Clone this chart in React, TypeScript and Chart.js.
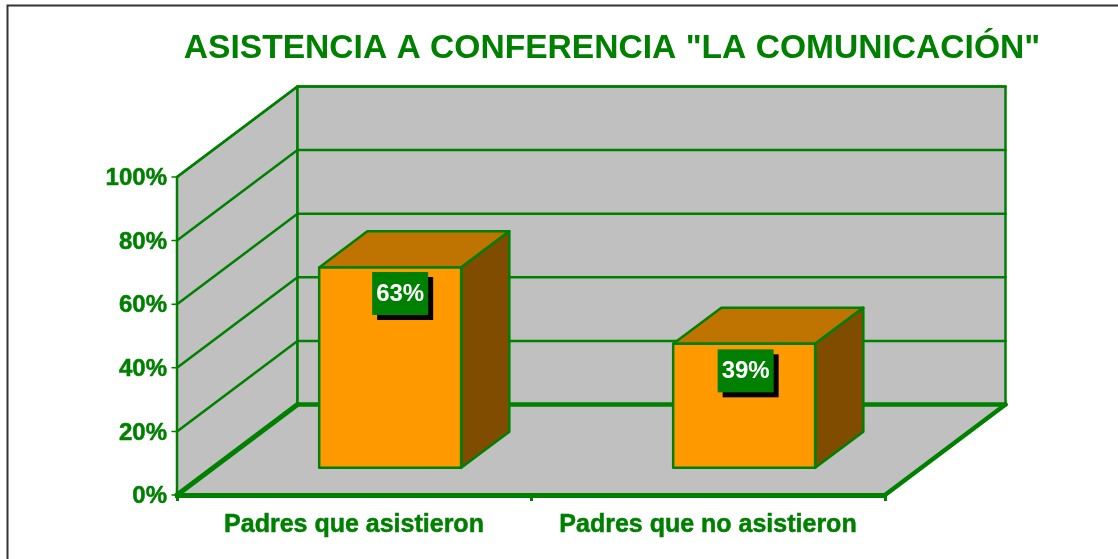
import React, { useEffect, useRef } from "react";
import { Chart, registerables } from "chart.js";

Chart.register(...registerables);

const titleText = 'ASISTENCIA A CONFERENCIA "LA COMUNICACIÓN"';
const categories = ["Padres que asistieron", "Padres que no asistieron"];
const percentValues = [63, 39];
const labelNudgeX = [10, 1.5];
const labelDropY = [26, 27];

const GREEN = "#008000";
const WALL = "#C0C0C0";
const FACE = "#FF9900";
const TOP = "#BF7300";
const SIDE = "#7F4C00";
const FONT = "'Liberation Sans', Arial, sans-serif";
const DEPTH_X = 120.5;
const DEPTH_Y = -90.5;
const FRONT_GAP = 0.3;
const BAR_DEPTH = 0.4;
const LINE = 2.5;

function poly(ctx: CanvasRenderingContext2D, pts: number[][], fill?: string, stroke?: string, width = LINE) {
  ctx.beginPath();
  pts.forEach((p, i) => (i ? ctx.lineTo(p[0], p[1]) : ctx.moveTo(p[0], p[1])));
  ctx.closePath();
  if (fill) {
    ctx.fillStyle = fill;
    ctx.fill();
  }
  if (stroke) {
    ctx.strokeStyle = stroke;
    ctx.lineWidth = width;
    ctx.lineJoin = "round";
    ctx.stroke();
  }
}

function line(ctx: CanvasRenderingContext2D, x1: number, y1: number, x2: number, y2: number, width: number) {
  ctx.beginPath();
  ctx.moveTo(x1, y1);
  ctx.lineTo(x2, y2);
  ctx.strokeStyle = GREEN;
  ctx.lineWidth = width;
  ctx.lineCap = "round";
  ctx.stroke();
}

const box3d = {
  id: "box3d",
  beforeDraw(chart: any) {
    const { ctx, chartArea: a, scales } = chart;
    const dx = DEPTH_X;
    const dy = DEPTH_Y;
    ctx.save();
    // page frame
    ctx.strokeStyle = "#333333";
    ctx.lineWidth = 2;
    ctx.beginPath();
    ctx.moveTo(7.5, chart.height);
    ctx.lineTo(7.5, 5.5);
    ctx.lineTo(chart.width, 5.5);
    ctx.stroke();
    // walls and floor
    poly(ctx, [[a.left, a.bottom], [a.left + dx, a.bottom + dy], [a.right + dx, a.bottom + dy], [a.right, a.bottom]], WALL);
    poly(ctx, [[a.left, a.bottom], [a.left, a.top], [a.left + dx, a.top + dy], [a.left + dx, a.bottom + dy]], WALL, GREEN);
    poly(ctx, [[a.left + dx, a.bottom + dy], [a.left + dx, a.top + dy], [a.right + dx, a.top + dy], [a.right + dx, a.bottom + dy]], WALL, GREEN);
    // gridlines and value-axis tick marks
    scales.y.ticks.forEach((t: any) => {
      const y = scales.y.getPixelForValue(t.value);
      line(ctx, a.left - 5, y, a.left, y, 1.5);
      if (t.value === 0) return;
      line(ctx, a.left, y, a.left + dx, y + dy, LINE);
      line(ctx, a.left + dx, y + dy, a.right + dx, y + dy, LINE);
    });
    // heavy floor edges
    line(ctx, a.left, a.bottom, a.left + dx, a.bottom + dy, 5);
    line(ctx, a.left + dx, a.bottom + dy, a.right + dx, a.bottom + dy, 4.5);
    line(ctx, a.right + dx, a.bottom + dy, a.right, a.bottom, 4.5);
    ctx.restore();
  },
  beforeDatasetDraw(chart: any, args: any) {
    const { ctx } = chart;
    const meta = chart.getDatasetMeta(args.index);
    const sx = DEPTH_X * FRONT_GAP;
    const sy = DEPTH_Y * FRONT_GAP;
    const bx = DEPTH_X * BAR_DEPTH;
    const by = DEPTH_Y * BAR_DEPTH;
    ctx.save();
    ctx.translate(sx, sy);
    meta.data.forEach((el: any) => {
      const { x, y, base, width } = el.getProps(["x", "y", "base", "width"], true);
      const l = x - width / 2;
      const r = x + width / 2;
      poly(ctx, [[l, y], [l + bx, y + by], [r + bx, y + by], [r, y]], TOP, GREEN);
      poly(ctx, [[r, y], [r + bx, y + by], [r + bx, base + by], [r, base]], SIDE, GREEN);
    });
  },
  afterDatasetDraw(chart: any, args: any) {
    const { ctx } = chart;
    const meta = chart.getDatasetMeta(args.index);
    meta.data.forEach((el: any) => {
      const { x, y, base, width } = el.getProps(["x", "y", "base", "width"], true);
      const l = x - width / 2;
      const r = x + width / 2;
      poly(ctx, [[l, y], [r, y], [r, base], [l, base]], undefined, GREEN);
    });
    ctx.restore();
  },
  afterDatasetsDraw(chart: any) {
    const { ctx } = chart;
    const meta = chart.getDatasetMeta(0);
    const sx = DEPTH_X * FRONT_GAP;
    const sy = DEPTH_Y * FRONT_GAP;
    ctx.save();
    meta.data.forEach((el: any, i: number) => {
      const cx = el.x + sx + labelNudgeX[i];
      const cy = el.y + sy + labelDropY[i];
      const w = 56;
      const h = 43;
      ctx.fillStyle = "#000000";
      ctx.fillRect(cx - w / 2 + 5, cy - h / 2 + 5, w, h);
      ctx.fillStyle = GREEN;
      ctx.fillRect(cx - w / 2, cy - h / 2, w, h);
      ctx.fillStyle = "#FFFFFF";
      ctx.font = `bold 24px ${FONT}`;
      ctx.textAlign = "center";
      ctx.textBaseline = "middle";
      ctx.fillText(`${percentValues[i]}%`, cx, cy + 1);
    });
    ctx.restore();
  },
};

export default function App() {
  const ref = useRef<HTMLCanvasElement>(null);

  useEffect(() => {
    const chart = new Chart(ref.current as HTMLCanvasElement, {
      type: "bar",
      data: {
        labels: categories,
        datasets: [
          {
            data: percentValues,
            backgroundColor: FACE,
            borderWidth: 0,
            categoryPercentage: 1,
            barPercentage: 0.401,
          },
        ],
      },
      plugins: [box3d],
      options: {
        responsive: false,
        animation: false,
        events: [],
        layout: { padding: { left: 106, right: 0, top: 0, bottom: 0 } },
        plugins: {
          legend: { display: false },
          tooltip: { enabled: false },
          title: {
            display: true,
            text: titleText,
            color: GREEN,
            font: { family: FONT, size: 33.6, weight: "bold", lineHeight: 1.2 },
            padding: { top: 29, bottom: 107.68 },
          },
        },
        scales: {
          x: {
            offset: true,
            grid: {
              offset: true,
              drawOnChartArea: false,
              color: GREEN,
              lineWidth: 3,
              tickLength: 6,
            },
            border: { display: true, color: GREEN, width: 5 },
            ticks: {
              color: GREEN,
              font: { family: FONT, size: 25, weight: "bold" },
              textStrokeColor: GREEN,
              textStrokeWidth: 0.5,
              padding: 9,
              maxRotation: 0,
              autoSkip: false,
            },
            afterFit(scale: any) {
              scale.height = 64;
            },
          },
          y: {
            min: 0,
            max: 100,
            grid: { display: false, tickLength: 5 },
            border: { display: true, color: GREEN, width: 2 },
            ticks: {
              stepSize: 20,
              color: GREEN,
              font: { family: FONT, size: 24, weight: "bold" },
              textStrokeColor: GREEN,
              textStrokeWidth: 0.5,
              padding: 5,
              labelOffset: 1.5,
              callback: (v: any) => `${v}%`,
            },
            afterFit(scale: any) {
              scale.width = 71;
            },
          },
          spacer: {
            type: "linear",
            position: "right",
            grid: { display: false },
            border: { display: false },
            ticks: { display: false },
            afterFit(scale: any) {
              scale.width = 233;
            },
          },
        },
      } as any,
    });
    return () => chart.destroy();
  }, []);

  return (
    <div style={{ position: "absolute", left: 0, top: 0, width: 1118, height: 559, overflow: "hidden", background: "#fff" }}>
      <canvas ref={ref} width={1118} height={559} style={{ display: "block" }} />
    </div>
  );
}
